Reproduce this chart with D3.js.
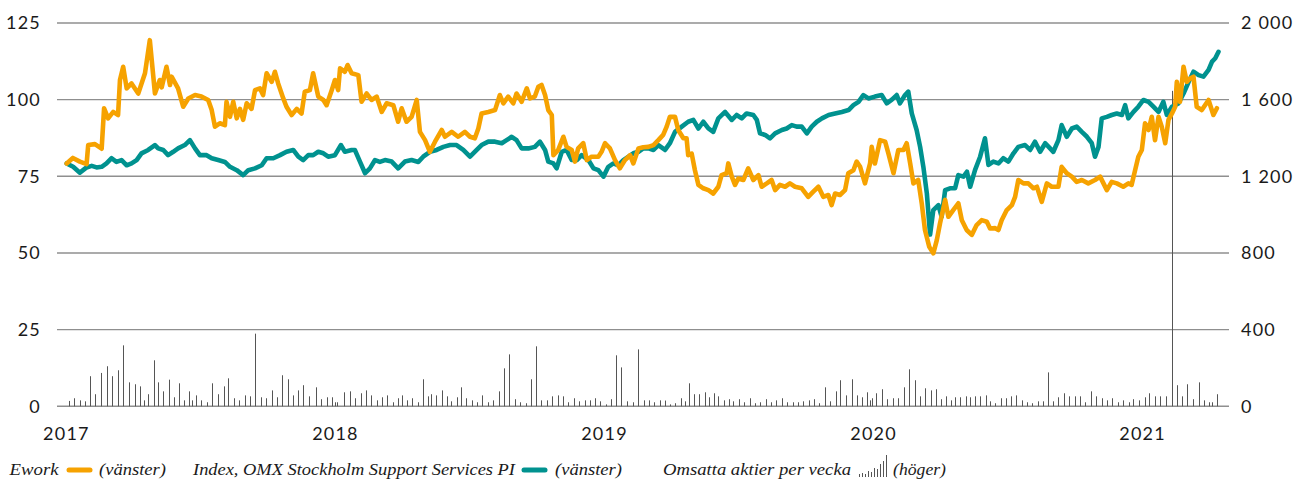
<!DOCTYPE html>
<html>
<head>
<meta charset="utf-8">
<script src="https://cdn.jsdelivr.net/npm/d3@7"></script>
<style>
  body { margin: 0; background: #fff; }
  .axis text { font-family: Lato, "Noto Sans", sans-serif; font-size: 18px; fill: #1a1a1a; letter-spacing: 1.2px; }
  .legend text { font-family: "Liberation Serif", serif; font-style: italic; font-size: 17px; fill: #1a1a1a; }
</style>
</head>
<body>
<script>
// Dates are decimal years
const years = [2017, 2018, 2019, 2020, 2021]
const leftTicks = [0, 25, 50, 75, 100, 125]
const rightTicks = [0, 400, 800, 1200, 1600, 2000]

// Ework share price (left axis)
const eworkPrice = [
  [2017.003,79.2],[2017.026,81],[2017.052,79.8],[2017.077,79],[2017.083,85.2],[2017.108,85.5],[2017.133,84],
  [2017.142,97.2],[2017.157,93.9],[2017.176,96],[2017.194,95],[2017.201,106.4],[2017.213,110.7],[2017.226,103.7],
  [2017.244,105.3],[2017.269,102],[2017.294,108.6],[2017.312,119.4],[2017.331,102],[2017.349,106.4],[2017.356,104],
  [2017.374,110.7],[2017.387,104.8],[2017.393,107.5],[2017.417,103.7],[2017.436,97.7],[2017.455,100.4],[2017.480,101.5],
  [2017.504,101],[2017.529,99.9],[2017.542,96.6],[2017.554,91.2],[2017.572,92.3],[2017.591,91.7],[2017.597,99.3],
  [2017.610,94.4],[2017.622,99.3],[2017.635,93.9],[2017.647,97],[2017.659,93.4],[2017.672,98.8],[2017.690,97],
  [2017.703,103.1],[2017.721,103.7],[2017.733,101.5],[2017.746,108.6],[2017.765,105.8],[2017.777,109.1],[2017.789,105.3],
  [2017.808,100.4],[2017.820,97.7],[2017.839,95],[2017.858,97],[2017.876,95.5],[2017.888,102.6],[2017.907,103.1],
  [2017.919,108.6],[2017.938,101],[2017.957,99.9],[2017.969,98.2],[2017.988,103.1],[2018.000,106.4],[2018.012,103.1],
  [2018.019,110.2],[2018.037,109.1],[2018.047,111.3],[2018.062,108.6],[2018.087,108],[2018.099,99.3],[2018.118,102],
  [2018.136,99.9],[2018.155,101],[2018.174,96],[2018.192,98.8],[2018.217,98.2],[2018.235,92.8],[2018.248,97.2],
  [2018.266,92.8],[2018.285,94.4],[2018.304,99.9],[2018.316,89.5],[2018.335,86.8],[2018.353,83],[2018.372,86.3],
  [2018.397,90.1],[2018.409,87.9],[2018.434,89.5],[2018.458,87.9],[2018.483,89.5],[2018.502,87.9],[2018.520,87.4],
  [2018.533,90.6],[2018.545,95.5],[2018.570,96],[2018.595,96.6],[2018.613,101.5],[2018.626,98.8],[2018.644,101],
  [2018.663,98.8],[2018.675,102],[2018.694,99.3],[2018.713,103.7],[2018.725,100.4],[2018.743,101],[2018.756,104.2],
  [2018.768,104.8],[2018.781,101.5],[2018.793,96.6],[2018.806,95],[2018.812,81.9],[2018.830,83.6],[2018.849,87.9],
  [2018.861,84.6],[2018.880,83.6],[2018.892,79.8],[2018.904,84.1],[2018.923,85.8],[2018.936,80.3],[2018.954,81.4],
  [2018.979,81.4],[2018.991,83],[2019.004,85.8],[2019.022,84.1],[2019.041,80.3],[2019.059,77.6],[2019.078,80.3],
  [2019.097,81.9],[2019.109,79.2],[2019.128,84.1],[2019.146,84.5],[2019.165,84.6],[2019.184,85.2],[2019.202,86.8],
  [2019.220,88.5],[2019.233,91.2],[2019.245,94.4],[2019.264,94.4],[2019.276,90.1],[2019.295,87.4],[2019.307,87.4],
  [2019.313,81.9],[2019.326,82.4],[2019.338,77],[2019.351,72.2],[2019.369,71.1],[2019.388,70.5],[2019.406,69.4],
  [2019.425,71.6],[2019.437,75.4],[2019.456,76],[2019.462,79.2],[2019.475,74.9],[2019.487,72.2],[2019.499,74.3],
  [2019.518,73.8],[2019.536,77.6],[2019.555,73.8],[2019.574,75.4],[2019.586,71.6],[2019.605,72.7],[2019.623,73.8],
  [2019.636,70.5],[2019.654,72.2],[2019.673,71.6],[2019.691,72.7],[2019.710,71.6],[2019.735,71.1],[2019.759,68.3],
  [2019.778,70],[2019.797,71.6],[2019.815,68.3],[2019.834,68.9],[2019.846,65.6],[2019.859,69.4],[2019.877,68.9],
  [2019.896,70.5],[2019.908,76],[2019.927,77],[2019.939,79.8],[2019.952,78.1],[2019.970,72.7],[2019.989,79.2],
  [2019.995,84.6],[2020.007,79.2],[2020.026,86.8],[2020.045,86.3],[2020.057,82.5],[2020.076,76],[2020.094,83.6],
  [2020.113,83.6],[2020.125,85.8],[2020.138,79.2],[2020.150,72.7],[2020.168,73.8],[2020.181,66.2],[2020.193,57.5],
  [2020.209,52],[2020.224,49.9],[2020.237,54.2],[2020.249,59.7],[2020.268,67.3],[2020.280,61.8],[2020.298,64],
  [2020.317,66.2],[2020.330,60.7],[2020.348,57.5],[2020.367,55.9],[2020.385,59.1],[2020.404,60.7],[2020.423,60.2],
  [2020.435,58],[2020.454,58.1],[2020.466,57.5],[2020.478,60.7],[2020.497,64],[2020.516,65.6],[2020.528,68.3],
  [2020.540,73.8],[2020.559,72.7],[2020.577,72.7],[2020.596,71.1],[2020.609,71.6],[2020.627,66.7],[2020.646,72.7],
  [2020.664,71.6],[2020.689,71.6],[2020.701,78.1],[2020.720,76],[2020.739,74.9],[2020.757,73.2],[2020.776,73.8],
  [2020.800,72.7],[2020.825,73.8],[2020.844,74.9],[2020.869,70.5],[2020.887,73.2],[2020.906,72.7],[2020.930,71.6],
  [2020.949,72.7],[2020.961,72.2],[2020.974,77],[2020.986,81.4],[2020.999,83.6],[2021.011,92.3],[2021.024,90.1],
  [2021.036,94.4],[2021.048,86.8],[2021.061,94.4],[2021.073,91.2],[2021.086,85.8],[2021.098,93.4],[2021.111,95.5],
  [2021.123,97.7],[2021.129,105.8],[2021.141,99.3],[2021.154,110.7],[2021.166,105.8],[2021.178,106.9],[2021.191,107.5],
  [2021.203,97.7],[2021.222,96.6],[2021.247,99.9],[2021.265,95],[2021.278,97.2]
]

// Index, OMX Stockholm Support Services PI (left axis)
const sectorIndex = [
  [2017.003,79.2],[2017.027,78.1],[2017.052,76.2],[2017.077,77.9],[2017.096,78.4],[2017.114,77.9],[2017.133,78.1],
  [2017.151,79.2],[2017.170,80.9],[2017.188,79.7],[2017.207,80.3],[2017.226,78.6],[2017.244,79.2],[2017.263,80.3],
  [2017.281,82.5],[2017.306,83.6],[2017.331,85.2],[2017.343,84.1],[2017.362,83.6],[2017.380,81.9],[2017.399,83],
  [2017.417,84.1],[2017.442,85.2],[2017.461,86.8],[2017.480,84.1],[2017.498,81.9],[2017.523,81.9],[2017.542,80.9],
  [2017.566,80.3],[2017.591,79.7],[2017.610,78.1],[2017.635,77],[2017.659,75.4],[2017.678,77],[2017.703,77.6],
  [2017.728,78.6],[2017.746,80.9],[2017.771,80.9],[2017.796,81.9],[2017.820,83],[2017.845,83.6],[2017.864,81.4],
  [2017.882,80.3],[2017.901,81.9],[2017.919,81.9],[2017.938,83],[2017.957,82.5],[2017.975,81.4],[2018.000,81.9],
  [2018.022,85.2],[2018.037,83],[2018.062,83.6],[2018.074,83.6],[2018.093,79.8],[2018.112,76],[2018.130,77.6],
  [2018.149,80.3],[2018.167,79.7],[2018.186,80.3],[2018.211,79.8],[2018.235,77.6],[2018.260,79.8],[2018.285,80.3],
  [2018.310,79.7],[2018.328,81.4],[2018.353,83],[2018.378,83.6],[2018.403,84.6],[2018.428,85.2],[2018.452,85.2],
  [2018.477,83.6],[2018.502,81.4],[2018.527,83.6],[2018.545,85.2],[2018.570,86.3],[2018.595,86.3],[2018.620,85.8],
  [2018.638,86.8],[2018.657,87.9],[2018.675,86.8],[2018.694,84.1],[2018.719,84.1],[2018.743,84.6],[2018.762,86.3],
  [2018.781,83.6],[2018.793,79.8],[2018.812,79.2],[2018.824,77.6],[2018.843,83],[2018.861,83.6],[2018.880,80.3],
  [2018.899,80.3],[2018.917,81.9],[2018.942,80.3],[2018.961,77.6],[2018.979,77],[2018.998,74.9],[2019.016,78.1],
  [2019.035,79.2],[2019.053,78.6],[2019.072,80.3],[2019.091,81.4],[2019.109,82.5],[2019.128,83],[2019.146,84.1],
  [2019.165,84.1],[2019.184,83.6],[2019.202,85.2],[2019.227,83.6],[2019.245,85.8],[2019.264,89.5],[2019.289,91.2],
  [2019.313,92.8],[2019.332,93.4],[2019.351,90.6],[2019.369,92.8],[2019.388,90.6],[2019.406,89.5],[2019.425,93.9],
  [2019.450,96],[2019.475,93.4],[2019.493,95],[2019.512,93.9],[2019.530,95.5],[2019.555,95],[2019.568,93.4],
  [2019.580,89],[2019.599,88.5],[2019.617,87.4],[2019.636,89],[2019.661,90.1],[2019.679,90.6],[2019.698,91.7],
  [2019.716,91.2],[2019.735,91.2],[2019.754,89],[2019.772,91.2],[2019.791,92.8],[2019.810,93.9],[2019.835,95],
  [2019.859,95.5],[2019.884,96],[2019.909,96.6],[2019.927,98.2],[2019.946,99.3],[2019.964,101.5],[2019.983,100.4],
  [2020.007,101],[2020.032,101.5],[2020.051,98.8],[2020.070,100],[2020.088,101.5],[2020.100,98.8],[2020.119,101.5],
  [2020.131,102.6],[2020.144,95.5],[2020.162,90.1],[2020.175,84.6],[2020.187,78.1],[2020.200,69.4],[2020.212,56],
  [2020.224,64],[2020.243,65.6],[2020.255,61.8],[2020.268,70.5],[2020.286,71.1],[2020.305,71.1],[2020.317,75.4],
  [2020.336,74.9],[2020.349,76.5],[2020.361,71.6],[2020.379,77],[2020.398,81.4],[2020.416,87.4],[2020.429,78.7],
  [2020.447,79.8],[2020.466,79.2],[2020.484,80.9],[2020.503,79.8],[2020.522,82.5],[2020.540,84.6],[2020.565,85.2],
  [2020.584,83.6],[2020.602,86.3],[2020.621,83],[2020.640,85.8],[2020.658,84.1],[2020.670,83],[2020.689,86.8],
  [2020.701,91.7],[2020.720,87.9],[2020.739,90.6],[2020.757,91.2],[2020.776,89.5],[2020.795,87.9],[2020.813,85.8],
  [2020.825,81.4],[2020.838,84.6],[2020.850,93.9],[2020.869,94.4],[2020.887,95],[2020.906,95.5],[2020.925,95],
  [2020.937,98.2],[2020.949,93.9],[2020.968,96],[2020.986,97.7],[2021.005,99.9],[2021.024,99.3],[2021.042,97.7],
  [2021.061,96],[2021.079,99.3],[2021.092,95],[2021.111,97.7],[2021.135,98.8],[2021.154,102],[2021.173,105.8],
  [2021.191,109.1],[2021.210,108],[2021.228,107.5],[2021.247,109.7],[2021.260,112.4],[2021.272,113.5],[2021.284,115.6]
]

// Omsatta aktier per vecka (right axis)
const weeklyVolume = [
  [2017.013,28],[2017.031,42],[2017.051,31],[2017.072,26],[2017.090,157],[2017.110,63],[2017.131,174],[2017.151,209],
  [2017.170,157],[2017.192,188],[2017.212,318],[2017.236,125],[2017.257,115],[2017.277,104],[2017.292,31],[2017.307,63],
  [2017.328,240],[2017.343,125],[2017.362,78],[2017.384,139],[2017.400,47],[2017.419,120],[2017.438,31],[2017.456,78],
  [2017.468,31],[2017.484,57],[2017.504,31],[2017.525,21],[2017.543,120],[2017.565,63],[2017.586,104],[2017.604,146],
  [2017.624,42],[2017.644,31],[2017.664,57],[2017.683,52],[2017.704,379],[2017.724,47],[2017.745,42],[2017.765,83],
  [2017.783,47],[2017.804,162],[2017.825,141],[2017.843,57],[2017.862,83],[2017.882,110],[2017.902,52],[2017.928,99],
  [2017.950,37],[2017.970,47],[2017.990,47],[2018.002,21],[2018.008,21],[2018.035,73],[2018.057,78],[2018.076,42],
  [2018.096,68],[2018.117,83],[2018.135,57],[2018.158,31],[2018.175,47],[2018.194,57],[2018.216,21],[2018.236,42],
  [2018.251,57],[2018.269,31],[2018.287,42],[2018.307,21],[2018.328,141],[2018.345,52],[2018.358,63],[2018.377,57],
  [2018.399,83],[2018.416,52],[2018.433,26],[2018.454,47],[2018.469,99],[2018.487,42],[2018.510,31],[2018.528,21],
  [2018.548,57],[2018.570,21],[2018.589,31],[2018.610,78],[2018.630,198],[2018.648,271],[2018.671,37],[2018.689,21],
  [2018.709,16],[2018.730,141],[2018.748,313],[2018.767,31],[2018.789,31],[2018.807,52],[2018.828,57],[2018.847,52],
  [2018.868,21],[2018.887,42],[2018.906,26],[2018.928,31],[2018.947,31],[2018.967,42],[2018.987,26],[2019.006,10],
  [2019.026,37],[2019.046,266],[2019.065,203],[2019.087,26],[2019.107,21],[2019.128,297],[2019.148,31],[2019.167,31],
  [2019.187,21],[2019.207,31],[2019.225,30],[2019.245,10],[2019.263,16],[2019.287,42],[2019.302,26],[2019.317,120],
  [2019.333,63],[2019.354,63],[2019.374,73],[2019.392,47],[2019.410,68],[2019.425,52],[2019.445,31],[2019.463,37],
  [2019.481,26],[2019.501,37],[2019.521,21],[2019.541,42],[2019.560,16],[2019.580,21],[2019.601,37],[2019.621,21],
  [2019.641,31],[2019.660,42],[2019.681,21],[2019.701,21],[2019.721,21],[2019.741,26],[2019.761,31],[2019.780,37],
  [2019.800,16],[2019.820,99],[2019.839,26],[2019.861,78],[2019.879,136],[2019.899,57],[2019.920,141],[2019.939,57],
  [2019.958,47],[2019.979,73],[2019.988,31],[2019.997,42],[2020.012,68],[2020.035,89],[2020.053,37],[2020.075,42],
  [2020.094,42],[2020.114,99],[2020.135,193],[2020.155,136],[2020.173,52],[2020.194,94],[2020.214,83],[2020.234,89],
  [2020.254,37],[2020.270,52],[2020.289,31],[2020.304,47],[2020.325,47],[2020.345,52],[2020.361,47],[2020.380,52],
  [2020.399,52],[2020.418,57],[2020.436,26],[2020.453,16],[2020.475,42],[2020.493,42],[2020.513,52],[2020.533,57],
  [2020.552,31],[2020.572,21],[2020.592,16],[2020.612,26],[2020.630,26],[2020.651,177],[2020.670,26],[2020.689,47],
  [2020.710,68],[2020.729,52],[2020.750,52],[2020.770,52],[2020.789,21],[2020.810,78],[2020.830,52],[2020.850,42],
  [2020.871,31],[2020.889,42],[2020.911,21],[2020.930,31],[2020.950,21],[2020.968,37],[2020.989,31],[2021.009,47],
  [2021.027,68],[2021.049,52],[2021.068,52],[2021.088,52],[2021.110,1646],[2021.129,110],[2021.149,52],[2021.168,115],
  [2021.188,37],[2021.210,125],[2021.229,31],[2021.249,21],[2021.261,21],[2021.279,63]
]

// little bar glyph in the legend
const legendIcon = [3, 4, 3, 6, 5, 9, 8, 13, 16, 22]

const width = 1312, height = 484
const svg = d3.select("body").append("svg").attr("width", width).attr("height", height)

const x = d3.scaleLinear().domain([2016.967, 2021.323]).range([57, 1229])
const y = d3.scaleLinear().domain([0, 125]).range([406.3, 23])
const y2 = d3.scaleLinear().domain([0, 2000]).range([406.3, 23])

const fmt = d3.formatLocale({decimal: ",", thousands: " ", grouping: [3], currency: ["", " kr"]}).format(",")

//gridlines
svg.append("g")
  .selectAll("line")
  .data(leftTicks)
  .join("line")
    .attr("x1", x.range()[0])
    .attr("x2", x.range()[1])
    .attr("y1", d => y(d))
    .attr("y2", d => y(d))
    .attr("stroke", "#8f8f8f")
    .attr("stroke-width", 1.4)

//axes
let gl = svg.append("g")
  .attr("class", "axis")
  .attr("transform", "translate(" + x.range()[0] + ",0)")
  .call(d3.axisLeft(y).tickValues(leftTicks).tickSize(0).tickPadding(16))
gl.select(".domain").remove()

let gr = svg.append("g")
  .attr("class", "axis")
  .attr("transform", "translate(" + x.range()[1] + ",0)")
  .call(d3.axisRight(y2).tickValues(rightTicks).tickSize(0).tickPadding(12).tickFormat(fmt))
gr.select(".domain").remove()

let gb = svg.append("g")
  .attr("class", "axis")
  .attr("transform", "translate(0," + y(0) + ")")
  .call(d3.axisBottom(x).tickValues(years).tickSize(0).tickPadding(21).tickFormat(d3.format("d")))
gb.select(".domain").remove()
svg.selectAll(".axis text").attr("font-family", null).attr("font-size", null).attr("fill", null)

//volume bars
svg.append("g")
  .selectAll("line")
  .data(weeklyVolume)
  .join("line")
    .attr("x1", d => Math.round(x(d[0])) + 0.5)
    .attr("x2", d => Math.round(x(d[0])) + 0.5)
    .attr("y1", y2(0))
    .attr("y2", d => y2(d[1]))
    .attr("stroke", "#555")
    .attr("stroke-width", 1)

const line = d3.line()
  .x(d => x(d[0]))
  .y(d => y(d[1]))

svg.append("path")
  .datum(sectorIndex)
  .attr("fill", "none")
  .attr("stroke", "#00928f")
  .attr("stroke-width", 4.6)
  .attr("stroke-linejoin", "round")
  .attr("stroke-linecap", "round")
  .attr("d", line)

svg.append("path")
  .datum(eworkPrice)
  .attr("fill", "none")
  .attr("stroke", "#f6a200")
  .attr("stroke-width", 4.6)
  .attr("stroke-linejoin", "round")
  .attr("stroke-linecap", "round")
  .attr("d", line)

//legend
const lg = svg.append("g").attr("class", "legend")
const texts = [
  {t: "Ework", x: 9.6, w: 49},
  {t: "(vänster)", x: 99, w: 67},
  {t: "Index, OMX Stockholm Support Services PI", x: 193, w: 322},
  {t: "(vänster)", x: 555, w: 67},
  {t: "Omsatta aktier per vecka", x: 663, w: 188},
  {t: "(höger)", x: 893, w: 53}
]
lg.selectAll("text")
  .data(texts)
  .join("text")
    .attr("x", d => d.x)
    .attr("y", 475)
    .attr("textLength", d => d.w)
    .attr("lengthAdjust", "spacingAndGlyphs")
    .text(d => d.t)

lg.append("line").attr("x1", 69).attr("x2", 90).attr("y1", 470).attr("y2", 470)
  .attr("stroke", "#f6a200").attr("stroke-width", 5).attr("stroke-linecap", "round")
lg.append("line").attr("x1", 524).attr("x2", 545).attr("y1", 470).attr("y2", 470)
  .attr("stroke", "#00928f").attr("stroke-width", 5).attr("stroke-linecap", "round")

lg.selectAll("line.icon")
  .data(legendIcon)
  .join("line")
    .attr("class", "icon")
    .attr("x1", (d, i) => 859.5 + i * 3)
    .attr("x2", (d, i) => 859.5 + i * 3)
    .attr("y1", 477)
    .attr("y2", d => 477 - d)
    .attr("stroke", "#555")
    .attr("stroke-width", 1)
</script>
</body>
</html>
